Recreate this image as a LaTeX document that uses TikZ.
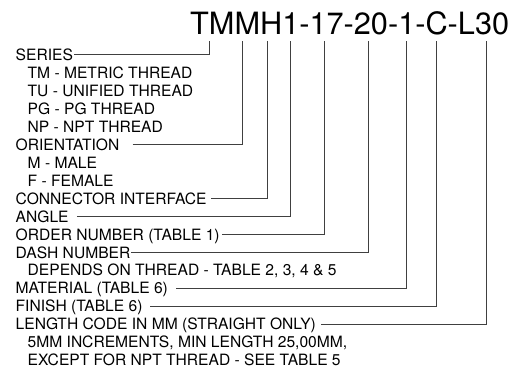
\documentclass[tikz,border=0pt]{standalone}
\usepackage{fontspec}
\setmainfont{TeX Gyre Heros}
\usetikzlibrary{calc}

\begin{document}
\begin{tikzpicture}[x=1pt, y=-1pt,
    lbl/.style={anchor=base west, inner sep=0pt, font=\fontsize{15.6}{18}\selectfont},
    lead/.style={draw=black!75, line width=0.9pt}]
    \useasboundingbox (0,0) rectangle (515,369);

    \node[anchor=base west, inner sep=0pt, font=\fontsize{30.7}{36}\selectfont] (code) at (190,35) {TMMH1-17-20-1-C-L30};

    % one row every 18pt
    \foreach \n/\i/\x/\txt in {ser/0/15.5/SERIES, tm/1/27.5/TM - METRIC THREAD, tu/2/27.5/TU - UNIFIED THREAD,
        pg/3/27.5/PG - PG THREAD, np/4/27.5/NP - NPT THREAD, ori/5/15.5/ORIENTATION, male/6/27.5/M - MALE,
        fem/7/27.5/F - FEMALE, con/8/15.5/CONNECTOR INTERFACE, ang/9/15.5/ANGLE, ord/10/15.5/ORDER NUMBER (TABLE 1),
        dash/11/15.5/DASH NUMBER, dep/12/27.5/{DEPENDS ON THREAD - TABLE 2, 3, 4 \& 5}, mat/13/15.5/MATERIAL (TABLE 6),
        fin/14/15.5/FINISH (TABLE 6), len/15/15.5/LENGTH CODE IN MM (STRAIGHT ONLY),
        inc/16/27.5/{5MM INCREMENTS, MIN LENGTH 25,00MM,}, npt/17/27.5/EXCEPT FOR NPT THREAD - SEE TABLE 5} {
        \node[lbl] (\n) at (\x,{60.6+17.95*\i}) {\txt};
    }

    % leaders up to the code
    \foreach \n/\gap/\xl in {ser/1/209.3, ori/13/242, con/4.5/267.3, ang/8/290.5, ord/2.5/324,
        dash/0.5/368.3, mat/8/406, fin/7.5/436.5, len/5/486.7} {
        \coordinate (p\n) at (\xl,40.7);
        \draw[lead] ($(\n.base east)+(\gap,-5.7)$) -| (p\n);
    }
\end{tikzpicture}
\end{document}
